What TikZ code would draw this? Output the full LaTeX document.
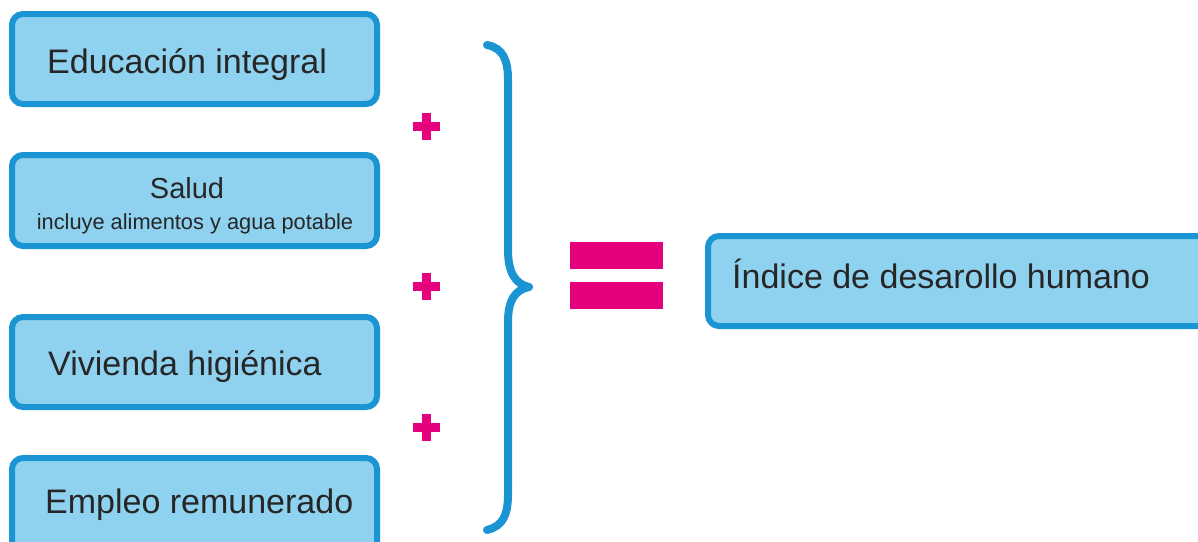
\documentclass[tikz,border=0pt]{standalone}
\usepackage{fontspec}
\setmainfont{Liberation Sans}
\definecolor{boxfill}{HTML}{8FD2F0}
\definecolor{boxline}{HTML}{1B94D3}
\definecolor{mag}{HTML}{E5007D}
\definecolor{txt}{HTML}{262626}
\tikzset{
  item/.style={draw=boxline, fill=boxfill, line width=6pt, rounded corners=11pt},
  lbl/.style={anchor=base west, inner sep=0pt, text=txt, font=\fontsize{34}{40}\selectfont}
}
\begin{document}
\begin{tikzpicture}[x=1pt,y=-1pt]
\useasboundingbox (0,0) rectangle (1198,541);
\clip (0,0) rectangle (1198,541);
% boxes
\draw[item] (12,14) rectangle (377,104);
\draw[item] (12,155) rectangle (377,246);
\draw[item] (12,317) rectangle (377,407);
\draw[item] (12,458) rectangle (377,560);
\draw[item] (708,236) rectangle (1215,326);
% labels
\node[lbl] (edu) at (47,73) {Educación integral};
\node[lbl, anchor=base, font=\fontsize{29}{34}\selectfont] (sal) at (187,198) {Salud};
\node[lbl, anchor=base, font=\fontsize{21.8}{26}\selectfont] (salsub) at (195,229) {incluye alimentos y agua potable};
\node[lbl] (viv) at (48,375) {Vivienda higiénica};
\node[lbl] (emp) at (45,513) {Empleo remunerado};
\node[lbl] (idh) at (732,288) {Índice de desarollo humano};
% plus signs
\foreach \cy in {126,286,427}{
  \fill[mag] (412.5,\cy-4.5) rectangle (439.5,\cy+4.5);
  \fill[mag] (421.5,\cy-13.5) rectangle (430.5,\cy+13.5);
}
% brace
\draw[boxline, line width=8pt, line cap=round, line join=round]
  (487,45) .. controls (503,48) and (508,60) .. (508,80)
  -- (508,250) .. controls (508,272) and (515,284) .. (529,287)
  .. controls (515,290) and (508,300) .. (508,322)
  -- (508,494) .. controls (508,515) and (503,526) .. (487,530);
% equals
\fill[mag] (570,242) rectangle (663,269);
\fill[mag] (570,282) rectangle (663,309);
\end{tikzpicture}
\end{document}
